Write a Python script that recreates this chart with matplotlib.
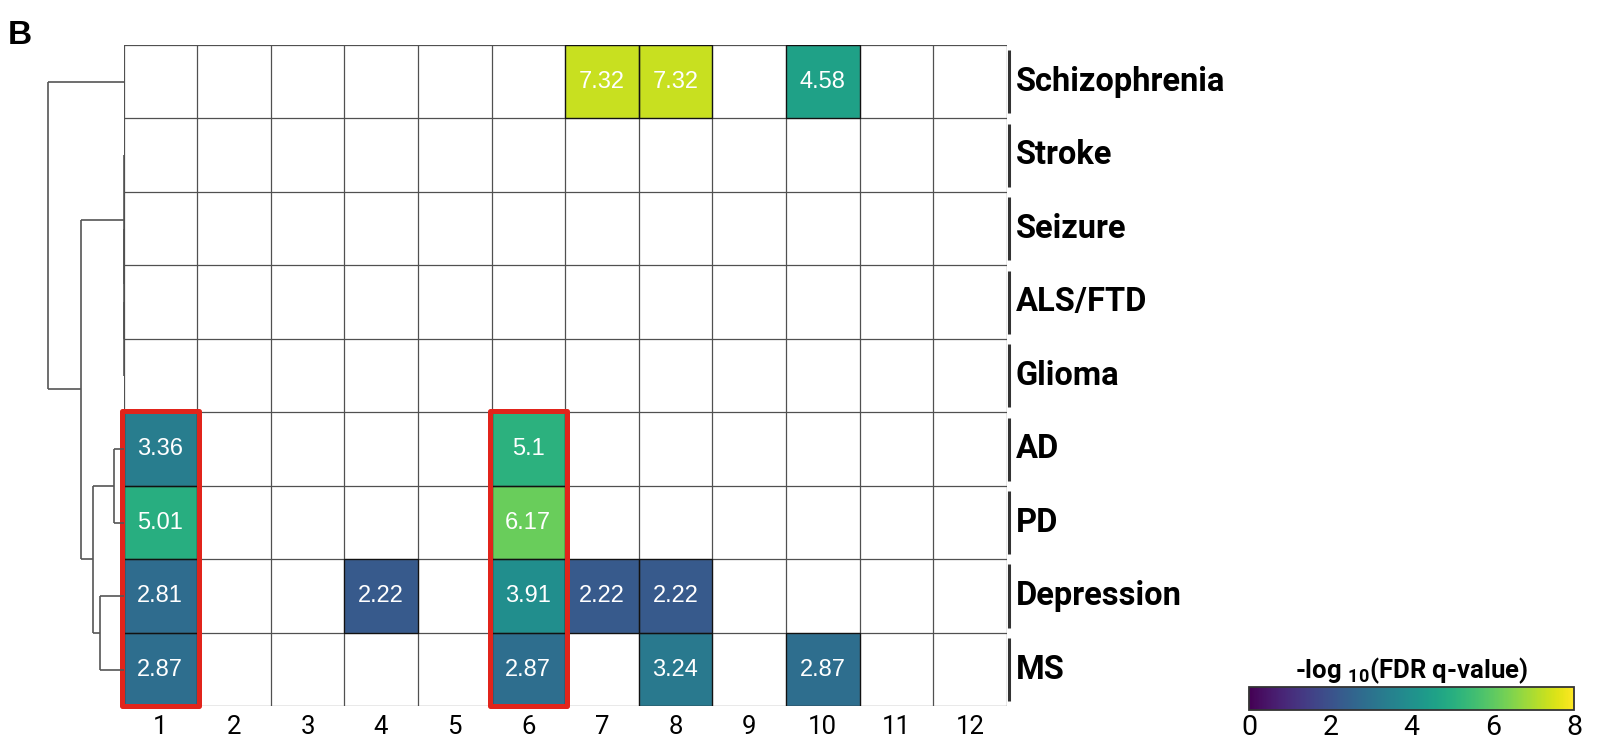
import numpy as np
import matplotlib
matplotlib.use('Agg')
import matplotlib.pyplot as plt
from matplotlib.patches import Rectangle

plt.rcParams['font.family'] = ['Roboto', 'DejaVu Sans']
plt.rcParams['mathtext.fontset'] = 'custom'
plt.rcParams['mathtext.rm'] = 'Roboto'
plt.rcParams['mathtext.bf'] = 'Roboto:bold'

diseases = ['Schizophrenia', 'Stroke', 'Seizure', 'ALS/FTD', 'Glioma',
            'AD', 'PD', 'Depression', 'MS']
modules = [str(i) for i in range(1, 13)]

# -log10(FDR q-value) per disease, nan = not significant
schizophrenia = [np.nan]*6 + [7.32, 7.32, np.nan, 4.58, np.nan, np.nan]
stroke = [np.nan]*12
seizure = [np.nan]*12
als_ftd = [np.nan]*12
glioma = [np.nan]*12
ad = [3.36, np.nan, np.nan, np.nan, np.nan, 5.1] + [np.nan]*6
pd_ = [5.01, np.nan, np.nan, np.nan, np.nan, 6.17] + [np.nan]*6
depression = [2.81, np.nan, np.nan, 2.22, np.nan, 3.91, 2.22, 2.22] + [np.nan]*4
ms = [2.87, np.nan, np.nan, np.nan, np.nan, 2.87, np.nan, 3.24, np.nan, 2.87, np.nan, np.nan]

# row dendrogram: (child a, child b, height); leaves 0..8 in row order
merges = [(3, 4, 0.0), (2, 9, 0.0), (1, 10, 0.0), (5, 6, 9.5), (7, 8, 23.5),
          (12, 13, 30.8), (11, 14, 42.5), (0, 15, 75.2)]

# highlighted columns (module index, first row, last row)
highlights = [(0, 5, 8), (5, 5, 8)]

vmin, vmax = 0, 8
cbar_ticks = [0, 2, 4, 6, 8]


def px(x0, y0, x1, y1, W=1599, H=740):
    return [x0/W, 1 - y1/H, (x1 - x0)/W, (y1 - y0)/H]


def draw_dendrogram(ax, merges, n_leaves):
    pos = {i: i + 0.5 for i in range(n_leaves)}
    hgt = {i: 0.0 for i in range(n_leaves)}
    node = n_leaves
    for a, b, h in merges:
        for c in (a, b):
            ax.plot([hgt[c], h], [pos[c], pos[c]], color='#555555', lw=1.2,
                    solid_capstyle='butt')
        ax.plot([h, h], [pos[a], pos[b]], color='#555555', lw=1.2,
                solid_capstyle='butt')
        pos[node] = (pos[a] + pos[b]) / 2
        hgt[node] = h
        node += 1
    top = max(m[2] for m in merges)
    ax.set_xlim(top * 123.5 / (123.5 - 48.3), 0)
    ax.set_ylim(n_leaves, 0)
    ax.axis('off')


data = np.array([schizophrenia, stroke, seizure, als_ftd, glioma,
                 ad, pd_, depression, ms])
nrow, ncol = data.shape

fig = plt.figure(figsize=(15.99, 7.40), dpi=100)
ax = fig.add_axes(px(123.5, 45, 1006.7, 706.3))
dax = fig.add_axes(px(0, 45, 123.5, 706.3))
cax = fig.add_axes(px(1249, 687, 1574, 710))

cmap = plt.get_cmap('viridis')
masked = np.ma.masked_invalid(data)
mesh = ax.pcolormesh(np.arange(ncol + 1), np.arange(nrow + 1), masked,
                     cmap=cmap, vmin=vmin, vmax=vmax, linewidth=0)
ax.set_xlim(0, ncol)
ax.set_ylim(nrow, 0)
for i in range(nrow + 1):
    ax.axhline(i, color='#505050', lw=0.9, zorder=2)
for j in range(ncol + 1):
    ax.axvline(j, color='#505050', lw=0.9, zorder=2)
for s in ax.spines.values():
    s.set_visible(False)

for i in range(nrow):
    for j in range(ncol):
        v = data[i, j]
        if not np.isnan(v):
            ax.add_patch(Rectangle((j, i), 1, 1, fill=False,
                                   edgecolor='#111111', lw=0.9, zorder=3))
            ax.text(j + 0.5, i + 0.5, f'{v:g}', ha='center', va='center',
                    color='white', fontsize=17, family='Liberation Sans',
                    zorder=4)

for j, r0, r1 in highlights:
    ax.add_patch(Rectangle((j - 0.025, r0 - 0.02), 1.05, r1 - r0 + 1.02,
                           fill=False, edgecolor='#e1241b', lw=3.6,
                           joinstyle='round', clip_on=False, zorder=5))

ax.set_xticks(np.arange(ncol) + 0.5)
ax.set_xticklabels(modules, fontsize=18.5)
ax.tick_params(axis='x', length=0, pad=6.5)
ax.set_yticks([])

for i, name in enumerate(diseases):
    ax.plot([12.03, 12.03], [i + 0.07, i + 0.93], color='#333333', lw=2.2,
            clip_on=False, solid_capstyle='butt')
    ax.text(12.12, i + 0.5, name, ha='left', va='center', fontsize=23.5,
            fontweight='bold', color='black')

draw_dendrogram(dax, merges, nrow)

cb = fig.colorbar(mesh, cax=cax, orientation='horizontal', ticks=cbar_ticks)
cb.ax.tick_params(length=0, labelsize=20.5, pad=3)
cb.outline.set_edgecolor('#333333')
cb.outline.set_linewidth(1.3)
cax.set_title(r'-log $_{\mathbf{10}}$(FDR q-value)', fontsize=18.5,
              fontweight='bold', pad=6)

fig.text(8/1599, 1 - 20/740, 'B', ha='left', va='top', fontsize=24,
         fontweight='bold', family='Liberation Sans')

fig.savefig('out.png', dpi=100)
